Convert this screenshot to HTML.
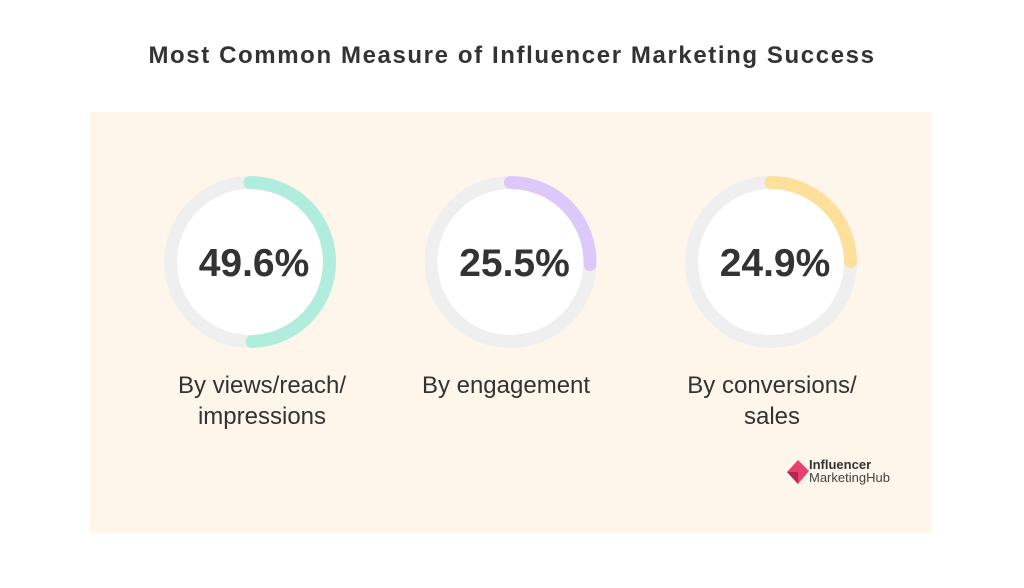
<!DOCTYPE html>
<html><head><meta charset="utf-8"><style>
body{margin:0;width:1024px;height:588px;background:#fff;font-family:"Liberation Sans","DejaVu Sans",sans-serif;position:relative;overflow:hidden}
#title{position:absolute;top:42px;left:0;width:1024px;text-align:center;font-size:24px;font-weight:bold;color:#333;letter-spacing:1.6px}
#panel{position:absolute;left:90px;top:112px;width:842px;height:421px;background:#fef6ea}
</style></head><body>
<div id="title">Most Common Measure of Influencer Marketing Success</div>
<div id="panel"></div>
<svg id="chart" width="1024" height="588" style="position:absolute;left:0;top:0"></svg>
<script>
const categories=["By views/reach/|impressions","By engagement","By conversions/|sales"];
const values=[49.6,25.5,24.9];
const colors=["#b1eddd","#dcc8fb","#ffdf9c"];
const labelCenters=[262,506,772];
const svg=document.getElementById('chart');
const NS="http://www.w3.org/2000/svg";
const cx0=250,dx=260.5,cy=262,r=79.5,sw=13;
function mk(t,a){const e=document.createElementNS(NS,t);for(const k in a)e.setAttribute(k,a[k]);svg.appendChild(e);return e;}
values.forEach((v,i)=>{
 const cx=cx0+i*dx;
 const bg=mk('circle',{cx:cx,cy:cy,r:r,fill:'#fff',stroke:'#efefef','stroke-width':sw});
 
 
 const a=v/100*2*Math.PI;
 const x1=cx,y1=cy-r,x2=cx+r*Math.sin(a),y2=cy-r*Math.cos(a);
 const p=mk('path',{d:`M${x1} ${y1} A${r} ${r} 0 ${v>50?1:0} 1 ${x2} ${y2}`,fill:'none',stroke:colors[i],'stroke-width':sw,'stroke-linecap':'round'});
 
 
 const t=mk('text',{x:cx+4,y:cy+14,'text-anchor':'middle','font-size':39,'font-weight':'bold',fill:'#333'});
 t.textContent=v+'%';
 
 
 categories[i].split('|').forEach((ln,j)=>{
  const l=mk('text',{x:labelCenters[i],y:393+j*31,'text-anchor':'middle','font-size':24,fill:'#333'});
  l.textContent=ln;
  
  
 });
});
</script>
<div style="position:absolute;left:787px;top:458px;width:130px;height:30px">
<svg width="22" height="26" style="position:absolute;left:0;top:2px"><polygon points="11,0 22,11 11,24 0,12" fill="#e8416f"/><polygon points="0,12 11,12 11,24" fill="#b52656"/></svg>
<div style="position:absolute;left:22px;top:0;font-size:13px;font-weight:bold;color:#333;line-height:14px">Influencer</div>
<div style="position:absolute;left:22px;top:13px;font-size:13px;color:#444;line-height:14px">MarketingHub</div>
</div>
</body></html>
